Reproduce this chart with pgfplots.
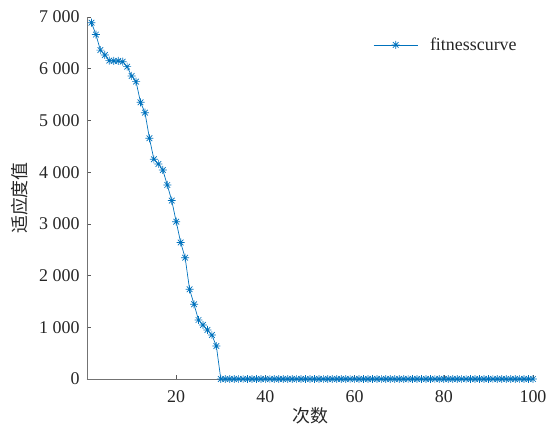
\documentclass[border=0pt]{standalone}
\usepackage{pgfplots}
\pgfplotsset{compat=1.18}
\usepackage{fontspec}
\setmainfont{Liberation Serif}
\newfontfamily\cjk{Noto Sans CJK SC}
\definecolor{mblue}{RGB}{0,114,189}
\definecolor{txt}{RGB}{38,38,38}
\pgfdeclareplotmark{mstar}{%
 \pgfpathmoveto{\pgfqpoint{-\pgfplotmarksize}{0pt}}\pgfpathlineto{\pgfqpoint{\pgfplotmarksize}{0pt}}%
 \pgfpathmoveto{\pgfqpoint{0pt}{-\pgfplotmarksize}}\pgfpathlineto{\pgfqpoint{0pt}{\pgfplotmarksize}}%
 \pgfpathmoveto{\pgfqpoint{-.7071\pgfplotmarksize}{-.7071\pgfplotmarksize}}\pgfpathlineto{\pgfqpoint{.7071\pgfplotmarksize}{.7071\pgfplotmarksize}}%
 \pgfpathmoveto{\pgfqpoint{-.7071\pgfplotmarksize}{.7071\pgfplotmarksize}}\pgfpathlineto{\pgfqpoint{.7071\pgfplotmarksize}{-.7071\pgfplotmarksize}}%
 \pgfusepathqstroke}
\begin{document}
\begin{tikzpicture}
\begin{axis}[
  scale only axis, width=446bp, height=362bp,
  xmin=0, xmax=100, ymin=0, ymax=7000,
  xtick={20,40,60,80,100}, ytick={0,1000,...,7000},
  axis lines=left, axis line style={-, draw=black!55, line width=0.8pt},
  tick style={draw=black!65, line width=0.6pt}, tick align=inside, major tick length=4bp,
  /pgf/number format/assume math mode=true,
  /pgf/number format/1000 sep={\ },
  every tick label/.append style={font=\fontsize{18}{20}\selectfont, text=txt},
  xticklabel style={yshift=-8bp},
  yticklabel style={xshift=-4bp},
  xlabel={\cjk 次数}, ylabel={\cjk 适应度值},
  label style={font=\fontsize{18}{20}\selectfont, text=txt},
  xlabel style={yshift=2bp},
  ylabel style={yshift=4bp},
  legend style={draw=none, fill=none, at={(0.635,0.923)}, anchor=west, font=\fontsize{18}{20}\selectfont, text=txt,
    /tikz/column 1/.style={column sep=10bp}},
  legend cell align=left,
  legend image code/.code={\draw[mark repeat=2,mark phase=2,#1] plot coordinates {(0cm,0cm)(0.775cm,0cm)(1.55cm,0cm)};},
]
\addplot[color=mblue, line width=0.7pt, mark=mstar, mark size=4pt, mark options={line width=0.7pt}] coordinates {
(1,6890)(2,6660)(3,6360)(4,6266)(5,6156)(6,6150)(7,6150)(8,6136)(9,6040)(10,5860)
(11,5750)(12,5351)(13,5150)(14,4655)(15,4249)(16,4158)(17,4042)(18,3752)(19,3450)(20,3042)
(21,2640)(22,2346)(23,1735)(24,1445)(25,1141)(26,1044)(27,948)(28,851)(29,638)(30,0)
(31,0)(32,0)(33,0)(34,0)(35,0)(36,0)(37,0)(38,0)(39,0)(40,0)
(41,0)(42,0)(43,0)(44,0)(45,0)(46,0)(47,0)(48,0)(49,0)(50,0)
(51,0)(52,0)(53,0)(54,0)(55,0)(56,0)(57,0)(58,0)(59,0)(60,0)
(61,0)(62,0)(63,0)(64,0)(65,0)(66,0)(67,0)(68,0)(69,0)(70,0)
(71,0)(72,0)(73,0)(74,0)(75,0)(76,0)(77,0)(78,0)(79,0)(80,0)
(81,0)(82,0)(83,0)(84,0)(85,0)(86,0)(87,0)(88,0)(89,0)(90,0)
(91,0)(92,0)(93,0)(94,0)(95,0)(96,0)(97,0)(98,0)(99,0)(100,0)
};
\addlegendentry{fitnesscurve}
\end{axis}
\pgfresetboundingbox
\path[use as bounding box] (current axis.south west) ++(-87bp,-47bp) rectangle ++(547bp,426bp);
\end{tikzpicture}
\end{document}
